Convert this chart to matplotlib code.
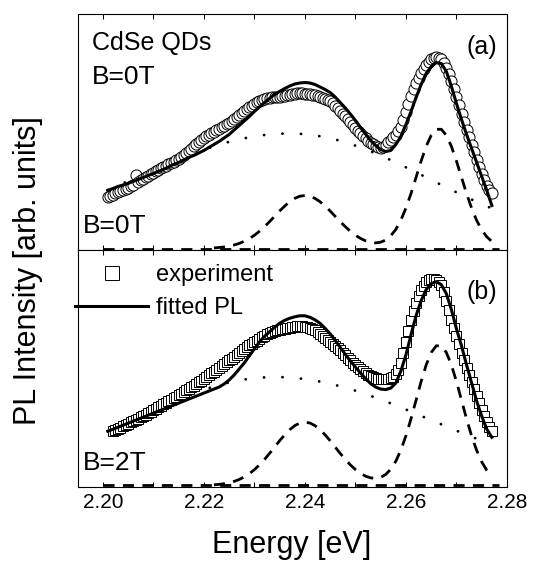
import matplotlib
matplotlib.use("Agg")
import matplotlib.pyplot as plt
from matplotlib.ticker import MultipleLocator, FixedLocator, FixedFormatter

plt.rcParams['font.family'] = ['Liberation Sans', 'DejaVu Sans']

# ---------------- data ----------------
# energies of the fitted / model curves
energy = [2.201, 2.202, 2.203, 2.204, 2.205, 2.206, 2.207, 2.208, 2.209, 2.210,
          2.211, 2.212, 2.213, 2.214, 2.215, 2.216, 2.217, 2.218, 2.219, 2.220,
          2.221, 2.222, 2.223, 2.224, 2.225, 2.226, 2.227, 2.228, 2.229, 2.230,
          2.231, 2.232, 2.233, 2.234, 2.235, 2.236, 2.237, 2.238, 2.239, 2.240,
          2.241, 2.242, 2.243, 2.244, 2.245, 2.246, 2.247, 2.248, 2.249, 2.250,
          2.251, 2.252, 2.253, 2.254, 2.255, 2.256, 2.257, 2.258, 2.259, 2.260,
          2.261, 2.262, 2.263, 2.264, 2.265, 2.266, 2.267, 2.268, 2.269, 2.270,
          2.271, 2.272, 2.273, 2.274, 2.275, 2.276, 2.277]

# energies of the measured spectra
energy_exp = [
    2.2010, 2.2015, 2.2020, 2.2025, 2.2030, 2.2035, 2.2040, 2.2045, 2.2050, 2.2055,
    2.2060, 2.2065, 2.2070, 2.2075, 2.2080, 2.2085, 2.2090, 2.2095, 2.2100, 2.2105,
    2.2110, 2.2115, 2.2120, 2.2125, 2.2130, 2.2135, 2.2140, 2.2145, 2.2150, 2.2155,
    2.2160, 2.2165, 2.2170, 2.2175, 2.2180, 2.2185, 2.2190, 2.2195, 2.2200, 2.2205,
    2.2210, 2.2215, 2.2220, 2.2225, 2.2230, 2.2235, 2.2240, 2.2245, 2.2250, 2.2255,
    2.2260, 2.2265, 2.2270, 2.2275, 2.2280, 2.2285, 2.2290, 2.2295, 2.2300, 2.2305,
    2.2310, 2.2315, 2.2320, 2.2325, 2.2330, 2.2335, 2.2340, 2.2345, 2.2350, 2.2355,
    2.2360, 2.2365, 2.2370, 2.2375, 2.2380, 2.2385, 2.2390, 2.2395, 2.2400, 2.2405,
    2.2410, 2.2415, 2.2420, 2.2425, 2.2430, 2.2435, 2.2440, 2.2445, 2.2450, 2.2455,
    2.2460, 2.2465, 2.2470, 2.2475, 2.2480, 2.2485, 2.2490, 2.2495, 2.2500, 2.2505,
    2.2510, 2.2515, 2.2520, 2.2525, 2.2530, 2.2535, 2.2540, 2.2545, 2.2550, 2.2555,
    2.2560, 2.2565, 2.2570, 2.2575, 2.2580, 2.2585, 2.2590, 2.2595, 2.2600, 2.2605,
    2.2610, 2.2615, 2.2620, 2.2625, 2.2630, 2.2635, 2.2640, 2.2645, 2.2650, 2.2655,
    2.2660, 2.2665, 2.2670, 2.2675, 2.2680, 2.2685, 2.2690, 2.2695, 2.2700, 2.2705,
    2.2710, 2.2715, 2.2720, 2.2725, 2.2730, 2.2735, 2.2740, 2.2745, 2.2750, 2.2755,
    2.2760, 2.2765, 2.2770]

# panel (a) B=0T : experiment (circles), fitted PL, broad background (dotted), peaks (dashed)
exp_a = [52, 53, 54, 55.5, 56.5, 58, 59, 60, 61, 63,
         64, 74, 67, 68.5, 70, 71.5, 73, 74.5, 76, 77.5,
         79, 80.5, 82, 83, 84.5, 86, 87, 88.5, 90, 92,
         94, 96, 98, 100, 102.5, 105, 107, 109, 111, 112.5,
         114, 115.5, 117, 118.5, 120, 121.5, 123, 124.5, 126, 128,
         130, 132, 134, 136, 138, 140, 141.5, 143, 145, 146.5,
         147.5, 148.5, 149.5, 150.5, 151, 151.5, 151.5, 152, 152, 152.5,
         153, 153.5, 154, 154.5, 155, 155.5, 155.5, 155.5, 155, 155,
         154.5, 154, 153.5, 153, 152, 151, 150, 149, 147.5, 145.5,
         143, 140.5, 138, 135, 132.5, 129.5, 126.5, 124, 121, 118,
         115.5, 113, 110.5, 108, 106, 104.5, 103, 102, 101, 101.5,
         104, 106.5, 109, 111.5, 114, 118, 122, 129, 137, 145,
         153, 160, 166, 171, 176, 180, 184, 187, 190, 191,
         191.5, 191, 190, 186, 181, 175, 168, 160, 152, 143.5,
         135, 127, 119, 111.5, 104, 96.5, 89, 82, 75, 69,
         63, 59, 56]
fit_a = [58, 60, 62, 63.5, 65, 67, 69, 71, 73, 75,
         77, 79, 81.5, 84, 86, 88.5, 91, 93, 95.5, 98,
         101, 104, 107, 110.5, 114, 118.5, 123, 127.5, 132, 137,
         141.5, 146, 150, 154, 157, 160, 162.5, 164.5, 165.5, 166,
         165.5, 164, 161.5, 159, 156, 151.5, 146, 140.5, 134.5, 128,
         121, 114.5, 108, 103, 99, 97, 98, 104, 112, 124,
         137, 151, 164, 175, 182, 186, 185, 177, 162, 145,
         129, 114, 100, 86, 72, 58, 43]
bg_a = [58.5, 63.0, 67.5, 72.0, 76.5, 80.9, 85.2, 89.4, 93.4, 97.2,
        100.6, 103.8, 106.7, 109.2, 111.2, 112.9, 114.1, 114.8, 115.0, 114.7,
        113.8, 112.3, 110.3, 107.7, 104.6, 101.1, 97.2, 92.9, 88.4, 83.6,
        78.7, 73.7, 68.6, 63.6, 58.6, 53.7, 49.0, 44.5, 40.1]
peaks_a = [0.6, 1.0, 1.5, 2.3, 3.5, 5.1, 7.2, 9.9, 13.2, 17.2,
           21.8, 26.8, 32.1, 37.5, 42.4, 46.8, 50.1, 52.3, 53.0, 52.3,
           50.1, 46.8, 42.4, 37.5, 32.1, 26.8, 21.8, 17.2, 13.3, 10.1,
           7.7, 6.2, 5.6, 6.3, 8.5, 12.7, 19.1, 28.4, 40.5, 54.9,
           71.1, 87.4, 102.1, 113.2, 119.2, 119.2, 113.2, 102.1, 87.4, 71.1,
           54.9, 40.3, 28.0, 18.5, 11.7, 7.0]

# panel (b) B=2T (measured points start at 2.2020 eV)
exp_b = [54, 55, 56.5, 57.5, 59, 60, 61.5, 63,
         64, 65, 66.5, 68, 69.5, 70.5, 72, 73.5, 75, 76.5,
         78, 79.5, 81, 82.5, 84, 85.5, 87, 88.5, 90, 91.5,
         93, 95, 96.5, 98, 99.5, 101, 103, 104.5, 106, 108,
         110, 112, 113.5, 115, 117, 119, 121, 123, 124.5, 126,
         128, 130, 132, 134, 136, 138, 139.5, 141, 142.5, 144,
         146, 147.5, 149, 150.5, 151.5, 152.5, 153.5, 154.5, 155, 155.5,
         156, 156.5, 157, 157.5, 158, 158.5, 158.5, 158.5, 158, 157.5,
         157, 156, 154.5, 153, 151, 149, 147, 145, 143, 141,
         139, 137, 134.5, 132, 129.5, 127, 124.5, 122, 120, 118,
         116, 114, 112, 110.5, 109, 108, 107, 106.5, 106, 106,
         106, 106.5, 107, 108.5, 111, 115, 122, 132, 143, 154,
         165, 174, 182, 189, 195, 199, 203, 205, 206, 206,
         205, 203, 200, 193, 184, 175, 165, 157, 149, 140.5,
         132, 124.5, 117, 110, 103, 96, 89, 82, 75, 69,
         63, 58, 54]
fit_b = [54, 56, 58, 60, 62, 64, 66, 68, 70, 72,
         74, 76, 78, 80, 82, 84, 86, 88, 90, 92,
         94, 96, 98, 101, 105, 110, 116, 122, 129, 136,
         143, 148.5, 153, 157.5, 161.5, 164.5, 166.5, 168, 169, 169,
         167.5, 165, 161.5, 156.5, 151, 144.5, 137.5, 130.5, 124, 118,
         112, 106.5, 101.5, 98, 96, 95.5, 97, 102, 114, 130,
         150, 169, 184, 195, 201, 203, 200, 191, 175, 156,
         139, 120, 102, 84, 69, 56, 48]
bg_b = [54.0, 58.6, 63.2, 67.9, 72.5, 77.1, 81.6, 85.8, 89.8, 93.6,
        97.0, 100.0, 102.6, 104.7, 106.3, 107.4, 107.9, 108.0, 107.5, 106.6,
        105.2, 103.5, 101.3, 98.8, 96.0, 92.8, 89.3, 85.6, 81.8, 77.7,
        73.6, 69.3, 65.0, 60.9, 56.7, 52.5, 48.5, 44.6, 40.9]
peaks_b = [0.7, 1.1, 1.8, 2.8, 4.1, 6.0, 8.5, 11.7, 15.7, 20.5,
           25.9, 31.9, 38.2, 44.6, 50.4, 55.6, 59.6, 62.2, 63.0, 62.2,
           59.6, 55.6, 50.4, 44.6, 38.2, 31.9, 25.9, 20.5, 15.9, 12.1,
           9.3, 7.6, 7.1, 8.1, 11.0, 16.2, 24.2, 35.3, 49.5, 66.4,
           84.9, 103.5, 120.0, 132.4, 139.1, 139.1, 132.4, 120.0, 103.5, 84.9,
           66.3, 49.3, 34.9, 23.5, 15.1, 9.2]

baseline_x = [2.200, 2.2785]
baseline_y = [0, 0]

xticks = [2.20, 2.22, 2.24, 2.26, 2.28]
xtick_labels = ["2.20", "2.22", "2.24", "2.26", "2.28"]

# ---------------- figure ----------------
W, H = 533, 565
fig = plt.figure(figsize=(W / 100, H / 100), dpi=100)
L, R = 77.5 / W, 507 / W
axa = fig.add_axes([L, 1 - 250 / H, R - L, 236 / H])
axb = fig.add_axes([L, 1 - 487 / H, R - L, 237 / H])

dash_style = (0, (4, 3))
dot_style = (0, (0.05, 6.6))


def draw(ax, e_exp, exp, fit, bg, peaks, marker, ms):
    h_exp, = ax.plot(e_exp, exp, linestyle='none', marker=marker, ms=ms,
                     mfc='white', mec='black', mew=0.7, zorder=2)
    h_fit, = ax.plot(energy, fit, color='black', lw=2.2, zorder=3)
    ax.plot(energy[::2], bg, color='black', lw=2.0, linestyle=dot_style,
            dash_capstyle='round', zorder=1)
    ax.plot(energy[21:], peaks, color='black', lw=2.0, linestyle=dash_style, zorder=1)
    ax.plot(baseline_x, baseline_y, color='black', lw=2.0, linestyle=dash_style, zorder=1)
    return h_exp, h_fit


draw(axa, energy_exp, exp_a, fit_a, bg_a, peaks_a, 'o', 8.0)
hb_exp, hb_fit = draw(axb, energy_exp[2:], exp_b, fit_b, bg_b, peaks_b, 's', 7.8)

for ax in (axa, axb):
    ax.set_xlim(2.195, 2.28)
    ax.set_ylim(-1.5, 234.5)
    ax.set_yticks([])
    ax.xaxis.set_major_locator(FixedLocator(xticks))
    ax.xaxis.set_major_formatter(FixedFormatter(xtick_labels))
    ax.xaxis.set_minor_locator(MultipleLocator(0.01))
    ax.tick_params(axis='x', which='both', direction='in', top=True, bottom=True,
                   length=3.6, width=0.75, labelsize=15, pad=4)
    for s in ax.spines.values():
        s.set_linewidth(0.8)
axa.tick_params(axis='x', labelbottom=False)

# texts
axa.text(0.034, 0.847, "CdSe QDs", transform=axa.transAxes, fontsize=18,
         ha='left', va='baseline')
axa.text(0.034, 0.703, "B=0T", transform=axa.transAxes, fontsize=19,
         ha='left', va='baseline')
axa.text(0.013, 0.072, "B=0T", transform=axa.transAxes, fontsize=19,
         ha='left', va='baseline')
axa.text(0.977, 0.861, "(a)", transform=axa.transAxes, fontsize=18,
         ha='right', va='center')
axb.text(0.013, 0.072, "B=2T", transform=axb.transAxes, fontsize=19,
         ha='left', va='baseline')
axb.text(0.977, 0.824, "(b)", transform=axb.transAxes, fontsize=18,
         ha='right', va='center')

axb.legend([hb_exp, hb_fit], ["experiment", "fitted PL"], loc='upper left',
           bbox_to_anchor=(75 / W, 1 - 264.5 / H), bbox_transform=fig.transFigure,
           frameon=False, fontsize=17, handlelength=3.1, handletextpad=0.32,
           labelspacing=0.45, borderpad=0, borderaxespad=0, markerscale=1.3,
           numpoints=1)

fig.text(292 / W, 1 - 545 / H, "Energy [eV]", fontsize=22, ha='center', va='center')
fig.text(28 / W, 1 - 271 / H, "PL Intensity [arb. units]", fontsize=22,
         ha='center', va='center', rotation=90)

fig.savefig("out.png", dpi=100)
